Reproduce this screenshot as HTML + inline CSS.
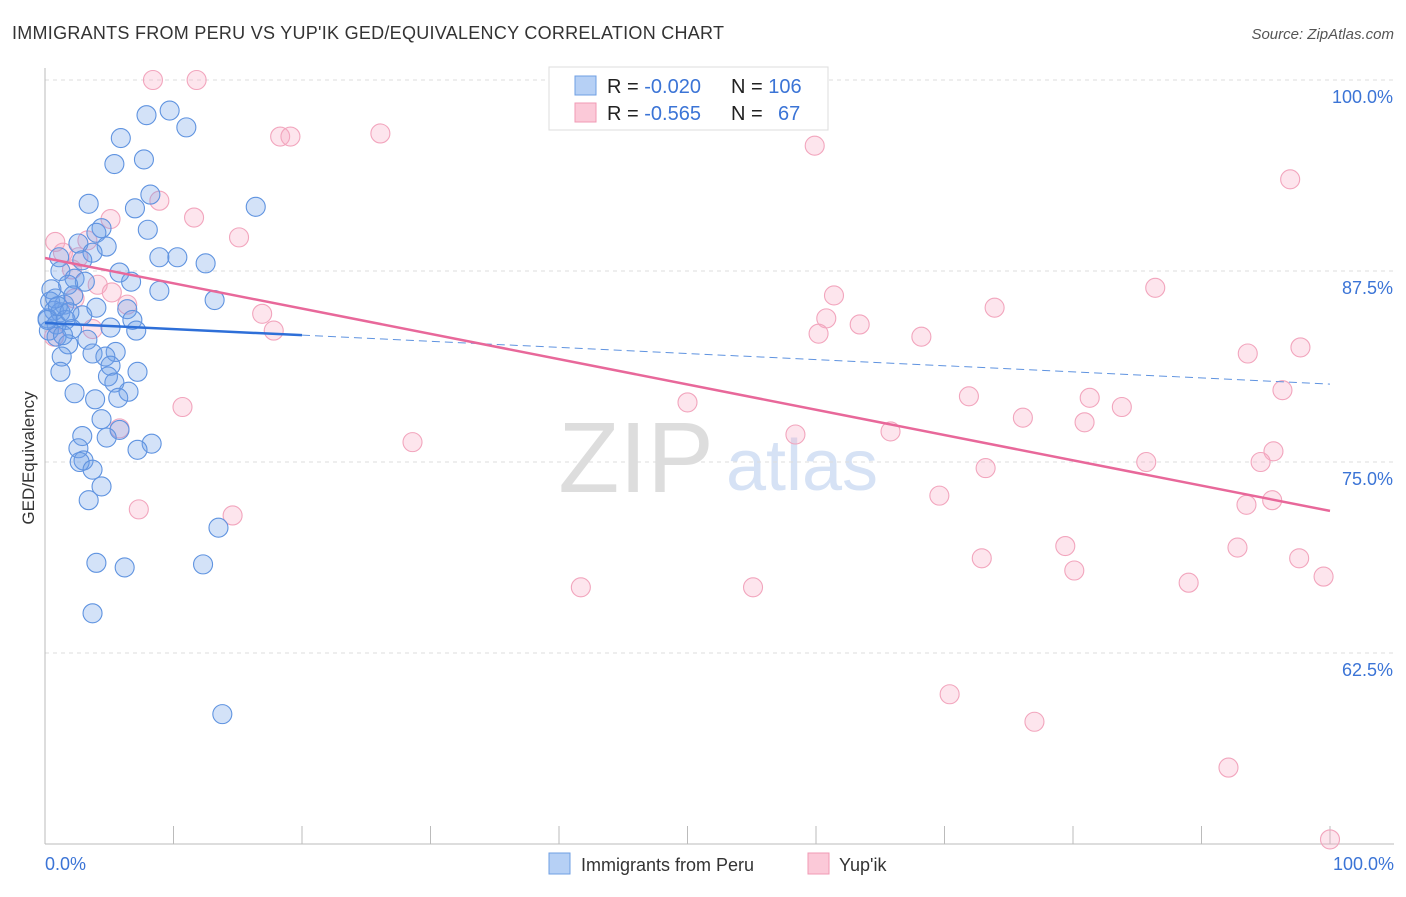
<!DOCTYPE html>
<html><head><meta charset="utf-8">
<style>
body{margin:0;background:#fff;font-family:"Liberation Sans",sans-serif;}
svg text{font-family:"Liberation Sans",sans-serif;}
</style></head>
<body>
<svg id="chart" width="1406" height="892" xmlns="http://www.w3.org/2000/svg">
<text x="12" y="39" font-size="18" fill="#333" textLength="712">IMMIGRANTS FROM PERU VS YUP'IK GED/EQUIVALENCY CORRELATION CHART</text>
<text x="1394" y="39" font-size="15" fill="#555" font-style="italic" text-anchor="end">Source: ZipAtlas.com</text>
<text x="34" y="458" font-size="17" fill="#333" text-anchor="middle" transform="rotate(-90 34 458)">GED/Equivalency</text>
<text x="636" y="492" font-size="100" fill="#ddd" font-family="Liberation Serif" text-anchor="middle">ZIP</text>
<text x="802" y="490" font-size="72" fill="#d6e2f5" text-anchor="middle">atlas</text>
<g id="grid"></g>
<g id="axes"></g>
<g id="pts"></g>
<g id="trend"></g>
<g>
<rect x="549" y="67" width="279" height="63" fill="#fff" stroke="#ddd"/>
<rect x="575" y="76" width="21" height="19" fill="#b6d0f5" stroke="#6f9fe3"/>
<rect x="575" y="103" width="21" height="19" fill="#fbc9d8" stroke="#f09ab4"/>
<text x="607" y="93" font-size="20" fill="#222">R = <tspan fill="#3b74d6">-0.020</tspan></text>
<text x="731" y="93" font-size="20" fill="#222">N = <tspan fill="#3b74d6">106</tspan></text>
<text x="607" y="120" font-size="20" fill="#222">R = <tspan fill="#3b74d6"> -0.565</tspan></text>
<text x="731" y="120" font-size="20" fill="#222">N = <tspan fill="#3b74d6" x="778">67</tspan></text>
</g>
<g>
<rect x="549" y="853" width="21" height="21" fill="#b6d0f5" stroke="#6f9fe3"/>
<text x="581" y="871" font-size="18" fill="#333">Immigrants from Peru</text>
<rect x="808" y="853" width="21" height="21" fill="#fbc9d8" stroke="#f09ab4"/>
<text x="839" y="871" font-size="18" fill="#333">Yup'ik</text>
</g>
</svg>
<script>
const yTicks=[100,87.5,75,62.5];
const yTickLabels=["100.0%","87.5%","75.0%","62.5%"];
const xEndLabels=["0.0%","100.0%"];
const peruX=[9.7,7.9,11.0,5.9,7.7,5.4,8.2,7.0,16.4,3.4,8.0,4.4,4.0,2.6,4.8,3.7,8.9,10.3,12.5,2.9,1.1,5.8,1.2,2.3,3.1,6.7,1.8,8.9,0.5,2.2,13.2,0.4,1.5,4.0,6.4,0.7,1.2,2.9,0.2,1.6,6.8,0.9,5.1,2.1,7.1,0.3,0.9,3.3,1.8,5.5,3.7,1.3,4.7,5.1,1.2,7.2,4.9,5.4,2.3,6.5,5.7,3.9,4.4,5.8,8.3,2.9,4.8,2.6,7.2,3.0,2.7,3.7,4.4,3.4,13.5,4.0,6.2,12.3,3.7,13.8,0.2,0.8,1.4,1.0,1.9];
const peruY=[98.0,97.7,96.9,96.2,94.8,94.5,92.5,91.6,91.7,91.9,90.2,90.3,90.0,89.3,89.1,88.7,88.4,88.4,88.0,88.2,88.4,87.4,87.5,87.0,86.8,86.8,86.6,86.2,86.3,85.9,85.6,85.5,85.3,85.1,85.0,84.9,84.8,84.6,84.4,84.3,84.3,84.0,83.8,83.7,83.6,83.6,83.2,83.0,82.7,82.2,82.1,81.9,81.9,81.3,80.9,80.9,80.6,80.2,79.5,79.6,79.2,79.1,77.8,77.1,76.2,76.7,76.6,75.9,75.8,75.1,75.0,74.5,73.4,72.5,70.7,68.4,68.1,68.3,65.1,58.5,84.3,85.7,83.3,85.2,84.8];
const yupikX=[8.4,11.8,18.3,19.1,26.1,59.9,96.9,8.9,5.1,11.6,15.1,0.8,1.4,2.6,3.3,2.1,4.1,5.2,2.3,6.4,16.9,17.8,3.7,0.7,61.4,73.9,86.4,60.8,60.2,63.4,68.2,93.6,97.7,96.3,71.9,81.3,50.0,10.7,83.8,76.1,80.9,65.8,58.4,28.6,5.8,95.6,94.6,85.7,73.2,69.6,93.5,95.5,7.3,14.6,79.4,72.9,92.8,97.6,80.1,99.5,89.0,41.7,55.1,70.4,77.0,92.1,100];
const yupikY=[100,100,96.3,96.3,96.5,95.7,93.5,92.1,90.9,91.0,89.7,89.4,88.7,88.4,89.5,87.6,86.6,86.1,85.7,85.3,84.7,83.6,83.7,83.2,85.9,85.1,86.4,84.4,83.4,84.0,83.2,82.1,82.5,79.7,79.3,79.2,78.9,78.6,78.6,77.9,77.6,77.0,76.8,76.3,77.2,75.7,75.0,75.0,74.6,72.8,72.2,72.5,71.9,71.5,69.5,68.7,69.4,68.7,67.9,67.5,67.1,66.8,66.8,59.8,58.0,55.0,50.3];
const peruTrend=[84.1,80.1];
const yupikTrend=[88.35,71.8];
const NS="http://www.w3.org/2000/svg";
const X=v=>45+v*12.85;
const Y=v=>80+(100-v)*15.28;
function mk(tag,attrs,parent){const e=document.createElementNS(NS,tag);for(const k in attrs)e.setAttribute(k,attrs[k]);document.getElementById(parent).appendChild(e);return e;}
yTicks.forEach((t,i)=>{
 const l=mk('line',{x1:45,x2:1394,y1:Y(t),y2:Y(t),stroke:'#ddd','stroke-dasharray':'4,4'},'grid');
 
 
 const tx=mk('text',{x:1393,y:Y(t)+23,'font-size':18,fill:'#3b74d6','text-anchor':'end'},'grid');
 tx.textContent=yTickLabels[i];
 
 
});
const ax=mk('line',{x1:45,x2:45,y1:68,y2:Y(50),stroke:'#bbb'},'axes');


const bx=mk('line',{x1:45,x2:1394,y1:Y(50),y2:Y(50),stroke:'#bbb'},'axes');


for(let i=0;i<=10;i++){
 const t=mk('line',{x1:X(i*10),x2:X(i*10),y1:Y(50),y2:Y(50)-18,stroke:'#bbb'},'axes');
 
 
}
[[0,'start'],[100,'end']].forEach((p,i)=>{
 const tx=mk('text',{x:i?1394:45,y:870,'font-size':18,fill:'#3b74d6','text-anchor':p[1]},'axes');
 tx.textContent=xEndLabels[i];
 
 
});
yupikX.forEach((x,i)=>{
 const c=mk('circle',{cx:X(x),cy:Y(yupikY[i]),r:9.5,fill:'rgba(248,170,196,0.3)',stroke:'#f2a5bd','stroke-width':1.1},'pts');
 
 
});
peruX.forEach((x,i)=>{
 const c=mk('circle',{cx:X(x),cy:Y(peruY[i]),r:9.5,fill:'rgba(110,160,232,0.3)',stroke:'#5f93e0','stroke-width':1.1},'pts');
 
 
});
const pAt=v=>peruTrend[0]+(peruTrend[1]-peruTrend[0])*v/100;
const l1=mk('line',{x1:X(0),y1:Y(pAt(0)),x2:X(20),y2:Y(pAt(20)),stroke:'#2e6fd8','stroke-width':2.5},'trend');


const l2=mk('line',{x1:X(20),y1:Y(pAt(20)),x2:X(100),y2:Y(pAt(100)),stroke:'#5f93e0','stroke-width':1,'stroke-dasharray':'8,5'},'trend');


const l3=mk('line',{x1:X(0),y1:Y(yupikTrend[0]),x2:X(100),y2:Y(yupikTrend[1]),stroke:'#e8689a','stroke-width':2.5},'trend');


</script>
</body></html>
